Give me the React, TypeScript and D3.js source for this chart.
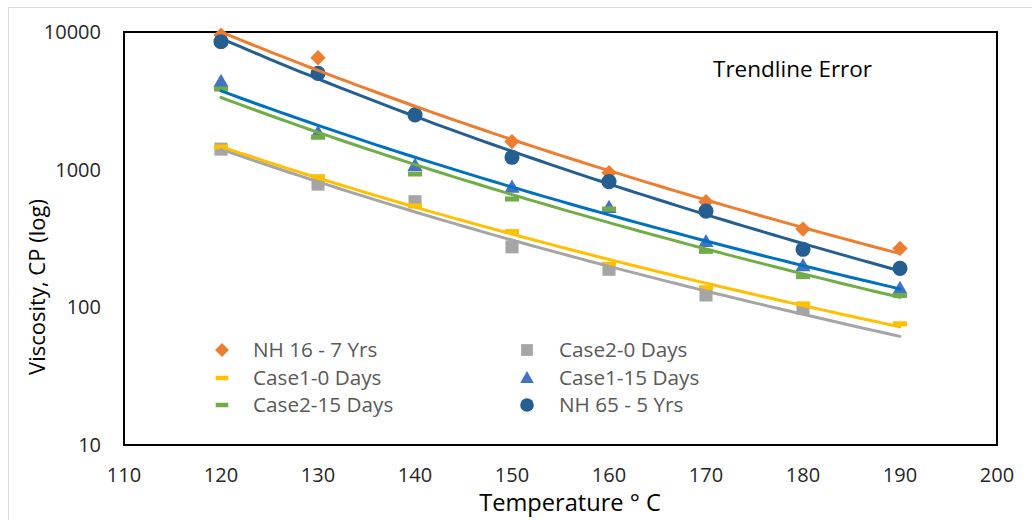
import React from "react";
import * as d3 from "d3";

// Temperatures (°C) at which viscosity was measured
const temps = [120, 130, 140, 150, 160, 170, 180, 190];

// Viscosity readings (cP) per sample; null = not measured
const nh16 = [9500, 6500, 2560, 1600, 950, 585, 370, 268];
const case2Day0 = [1410, 785, 585, 275, 189, 123, 98, null];
const case1Day0 = [1460, 890, 545, 355, 206, 139, 106, 76];
const case1Day15 = [4370, 1850, 1070, 745, 530, 300, 200, 137];
const case2Day15 = [3850, 1720, 930, 612, 518, 255, 167, 122];
const nh65 = [8500, 5000, 2500, 1230, 818, 500, 264, 192];

// Trendlines span this temperature range
const trendRange = [120, 190];

const xTicks = [110, 120, 130, 140, 150, 160, 170, 180, 190, 200];
const yTicks = [10, 100, 1000, 10000];

type Shape = "diamond" | "square" | "dash" | "triangle" | "circle";
interface Series {
  name: string;
  values: (number | null)[];
  shape: Shape;
  color: string;
  trendColor: string;
}

// Drawing order follows the workbook's series order
const series: Series[] = [
  { name: "NH 16 - 7 Yrs", values: nh16, shape: "diamond", color: "#ED7D31", trendColor: "#ED7D31" },
  { name: "Case2-0 Days", values: case2Day0, shape: "square", color: "#A5A5A5", trendColor: "#A5A5A5" },
  { name: "Case1-0 Days", values: case1Day0, shape: "dash", color: "#FFC000", trendColor: "#FFC000" },
  { name: "Case1-15 Days", values: case1Day15, shape: "triangle", color: "#4472C4", trendColor: "#0070C0" },
  { name: "Case2-15 Days", values: case2Day15, shape: "dash", color: "#70AD47", trendColor: "#70AD47" },
  { name: "NH 65 - 5 Yrs", values: nh65, shape: "circle", color: "#255E91", trendColor: "#255E91" },
];

const W = 1032;
const H = 520;
const plot = { left: 124, top: 32, right: 997, bottom: 445 };

const x = d3.scaleLinear().domain([110, 200]).range([plot.left, plot.right]);
const y = d3.scaleLog().domain([10, 10000]).range([plot.bottom, plot.top]);

const FONT = "'Open Sans', 'Noto Sans', sans-serif";

// Power-law trendline y = a * x^b, least squares in log-log space
function powerFit(vals: (number | null)[]) {
  const pts = temps
    .map((t, i) => [t, vals[i]] as [number, number | null])
    .filter((p) => p[1] != null)
    .map((p) => [Math.log(p[0]), Math.log(p[1] as number)]);
  const mx = d3.mean(pts, (p) => p[0]) as number;
  const my = d3.mean(pts, (p) => p[1]) as number;
  let sxy = 0;
  let sxx = 0;
  for (const [lx, ly] of pts) {
    sxy += (lx - mx) * (ly - my);
    sxx += (lx - mx) * (lx - mx);
  }
  const b = sxy / sxx;
  return (t: number) => Math.exp(my + b * (Math.log(t) - mx));
}

function Marker({ shape, color, cx, cy, scale = 1 }: { shape: Shape; color: string; cx: number; cy: number; scale?: number }) {
  const t = `translate(${cx},${cy})`;
  if (shape === "diamond") {
    const p = d3.symbol(d3.symbolSquare, 118 * scale * scale)()!;
    return <path d={p} transform={`${t} rotate(45)`} fill={color} />;
  }
  if (shape === "square") {
    const p = d3.symbol(d3.symbolSquare, 170 * scale * scale)()!;
    return <path d={p} transform={t} fill={color} />;
  }
  if (shape === "triangle") {
    const p = d3.symbol(d3.symbolTriangle, 100 * scale * scale)()!;
    return <path d={p} transform={`${t} translate(0,1)`} fill={color} />;
  }
  if (shape === "circle") {
    const p = d3.symbol(d3.symbolCircle, 180 * scale * scale)()!;
    return <path d={p} transform={t} fill={color} />;
  }
  const w = 14 * scale;
  const h = 5 * scale;
  return <rect x={cx - w / 2} y={cy - h / 2} width={w} height={h} fill={color} />;
}

export default function App() {
  const legendRows = [
    [series[0], series[1]],
    [series[2], series[3]],
    [series[4], series[5]],
  ];
  const legendX = [222, 527];
  const legendTextX = [253, 559];
  const legendY = [350, 378, 405];

  const samples = d3.range(trendRange[0], trendRange[1] + 0.5, 1);
  const trendPath = (vals: (number | null)[]) => {
    const f = powerFit(vals);
    return d3
      .line<number>()
      .x((t) => x(t))
      .y((t) => y(f(t)))(samples)!;
  };

  return (
    <svg width={W} height={H} style={{ display: "block", position: "absolute", left: 0, top: 0 }} fontFamily={FONT}>
      <rect x={0} y={0} width={W} height={H} fill="#fff" />
      <rect x={8.5} y={7.5} width={W + 20} height={H + 20} fill="none" stroke="#d9d9d9" strokeWidth={1} />

      {/* plot frame */}
      <rect
        x={plot.left}
        y={plot.top}
        width={plot.right - plot.left}
        height={plot.bottom - plot.top}
        fill="none"
        stroke="#000"
        strokeWidth={2}
      />

      {/* y tick labels */}
      {yTicks.map((v) => (
        <text key={v} x={101} y={y(v)} dy="0.35em" textAnchor="end" fontSize={20} fill="#262626">
          {v}
        </text>
      ))}

      {/* x tick labels */}
      {xTicks.map((v) => (
        <text key={v} x={x(v)} y={475} dy="0.35em" textAnchor="middle" fontSize={20} fill="#262626">
          {v}
        </text>
      ))}

      {/* axis titles */}
      <text x={570} y={511} textAnchor="middle" fontSize={23.6} fill="#000">
        Temperature ° C
      </text>
      <text transform={`translate(45,${287}) rotate(-90)`} textAnchor="middle" fontSize={22} fill="#000">
        Viscosity, CP (log)
      </text>

      {/* markers */}
      {series.map((s) => (
        <g key={s.name}>
          {s.values.map((v, i) =>
            v == null ? null : <Marker key={i} shape={s.shape} color={s.color} cx={x(temps[i])} cy={y(v)} />
          )}
        </g>
      ))}

      {/* power-law trendlines */}
      {series.map((s) => (
        <path key={s.name} d={trendPath(s.values)} fill="none" stroke={s.trendColor} strokeWidth={3} strokeLinecap="round" />
      ))}

      <text x={713} y={77} fontSize={22.5} fill="#000">
        Trendline Error
      </text>

      {/* legend */}
      {legendRows.map((row, r) =>
        row.map((s, c) => (
          <g key={s.name}>
            <Marker shape={s.shape} color={s.color} cx={legendX[c]} cy={legendY[r]} scale={0.9} />
            <text x={legendTextX[c]} y={legendY[r]} dy="0.35em" fontSize={20.7} fill="#595959">
              {s.name}
            </text>
          </g>
        ))
      )}
    </svg>
  );
}
